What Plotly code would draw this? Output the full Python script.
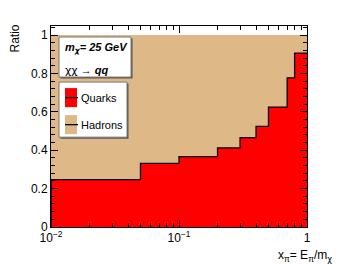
import plotly.graph_objects as go

# Data
bin_edges = [0.01, 0.05, 0.1, 0.2, 0.3, 0.4, 0.5, 0.7, 0.8, 1.0]
quarks = [0.247, 0.331, 0.367, 0.412, 0.466, 0.524, 0.624, 0.777, 0.906]
hadrons = [1.0, 1.0, 1.0, 1.0, 1.0, 1.0, 1.0, 1.0, 1.0]
x_tickvals = [0.01, 0.1, 1]
x_ticktext = ["10<sup>\u22122</sup>", "10<sup>\u22121</sup>", "1"]
y_tickvals = [0, 0.2, 0.4, 0.6, 0.8, 1]
y_ticktext = ["0", "0.2", "0.4", "0.6", "0.8", "1"]

RED = "#ff0000"
TAN = "#deb887"
FONT = "Liberation Sans"
CHI = '<span style="font-family:DejaVu Sans">\u03c7</span>'

OFF = 8  # default page body margin
W, H = 341, 264
L, R, T, B = 51, 307, 26, 226.7


def px(x):
    return (x - L) / (R - L)


def py(y):
    return (B - y) / (B - T)


def step(vals):
    xs = [bin_edges[0]] + bin_edges
    ys = [0] + vals + [vals[-1]]
    return xs, ys


fig = go.Figure()
hx, hy = step(hadrons)
fig.add_trace(go.Scatter(x=hx, y=hy, line_shape="hv", fill="tozeroy",
                         fillcolor=TAN, line=dict(color=TAN, width=0),
                         mode="lines", hoverinfo="skip"))
qx, qy = step(quarks)
fig.add_trace(go.Scatter(x=qx, y=qy, line_shape="hv", fill="tozeroy",
                         fillcolor=RED, line=dict(color="black", width=1.3),
                         mode="lines", hoverinfo="skip"))

shapes = []
annots = []


def box(x0, y0, x1, y1):
    shapes.append(dict(type="rect", xref="paper", yref="paper",
                       x0=px(x0 + 1.5), x1=px(x1 + 1.5), y0=py(y1 + 1.5), y1=py(y0 + 1.5),
                       fillcolor="#555555", line=dict(width=0), layer="above"))
    shapes.append(dict(type="rect", xref="paper", yref="paper",
                       x0=px(x0), x1=px(x1), y0=py(y1), y1=py(y0),
                       fillcolor="white", line=dict(color="#777777", width=1), layer="above"))


box(59, 37, 131, 77)
box(59, 82, 127, 137)

annots.append(dict(xref="paper", yref="paper", x=px(63), y=py(48), xanchor="left", yanchor="middle",
                   text="<b><i>m<sub>" + CHI + "</sub>= 25 GeV</i></b>", showarrow=False,
                   font=dict(family=FONT, size=11, color="black")))
annots.append(dict(xref="paper", yref="paper", x=px(63), y=py(70), xanchor="left", yanchor="middle",
                   text=CHI + CHI + " \u2192 <b><i>qq</i></b>", showarrow=False,
                   font=dict(family=FONT, size=11, color="black")))

for (y0, y1, col, label) in [(88, 107, RED, "Quarks"), (115, 134, TAN, "Hadrons")]:
    shapes.append(dict(type="rect", xref="paper", yref="paper",
                       x0=px(65), x1=px(77), y0=py(y1), y1=py(y0),
                       fillcolor=col, line=dict(width=0), layer="above"))
    ym = (y0 + y1) / 2
    shapes.append(dict(type="line", xref="paper", yref="paper",
                       x0=px(65), x1=px(78), y0=py(ym), y1=py(ym),
                       line=dict(color="black", width=1.3), layer="above"))
    annots.append(dict(xref="paper", yref="paper", x=px(79), y=py(ym), xanchor="left", yanchor="middle",
                       text=label, showarrow=False,
                       font=dict(family=FONT, size=11, color="black")))

annots.append(dict(xref="paper", yref="paper", x=px(15.5), y=py(39), xanchor="center", yanchor="middle",
                   text="Ratio", textangle=-90, showarrow=False,
                   font=dict(family=FONT, size=12, color="black")))
annots.append(dict(xref="paper", yref="paper", x=px(334), y=py(256), xanchor="right", yanchor="middle",
                   text="x<sub>\u03c0</sub>= E<sub>\u03c0</sub>/m<sub>" + CHI + "</sub>", showarrow=False,
                   font=dict(family=FONT, size=12, color="black")))

fig.update_layout(
    width=W - OFF, height=H - OFF,
    margin=dict(l=L - OFF, r=W - R, t=T - OFF, b=H - B),
    paper_bgcolor="white", plot_bgcolor="white",
    showlegend=False,
    shapes=shapes, annotations=annots,
    font=dict(family=FONT, size=12, color="black"),
)
fig.update_xaxes(type="log", range=[-2, 0], tickvals=x_tickvals, ticktext=x_ticktext,
                 ticks="inside", ticklen=7, tickcolor="black", showgrid=False, zeroline=False,
                 showline=True, linecolor="black", linewidth=1, mirror="allticks",
                 tickfont=dict(family=FONT, size=12),
                 minor=dict(ticks="inside", ticklen=4, tickcolor="black",
                            tickvals=[0.02, 0.03, 0.04, 0.05, 0.06, 0.07, 0.08, 0.09,
                                      0.2, 0.3, 0.4, 0.5, 0.6, 0.7, 0.8, 0.9]))
fig.update_yaxes(range=[0, 1.047], tickvals=y_tickvals, ticktext=y_ticktext,
                 ticks="inside", ticklen=7, tickcolor="black", showgrid=False, zeroline=False,
                 showline=True, linecolor="black", linewidth=1, mirror="allticks",
                 tickfont=dict(family=FONT, size=12),
                 minor=dict(ticks="inside", ticklen=4, tickcolor="black", dtick=0.04))

fig.write_html("out.html")
